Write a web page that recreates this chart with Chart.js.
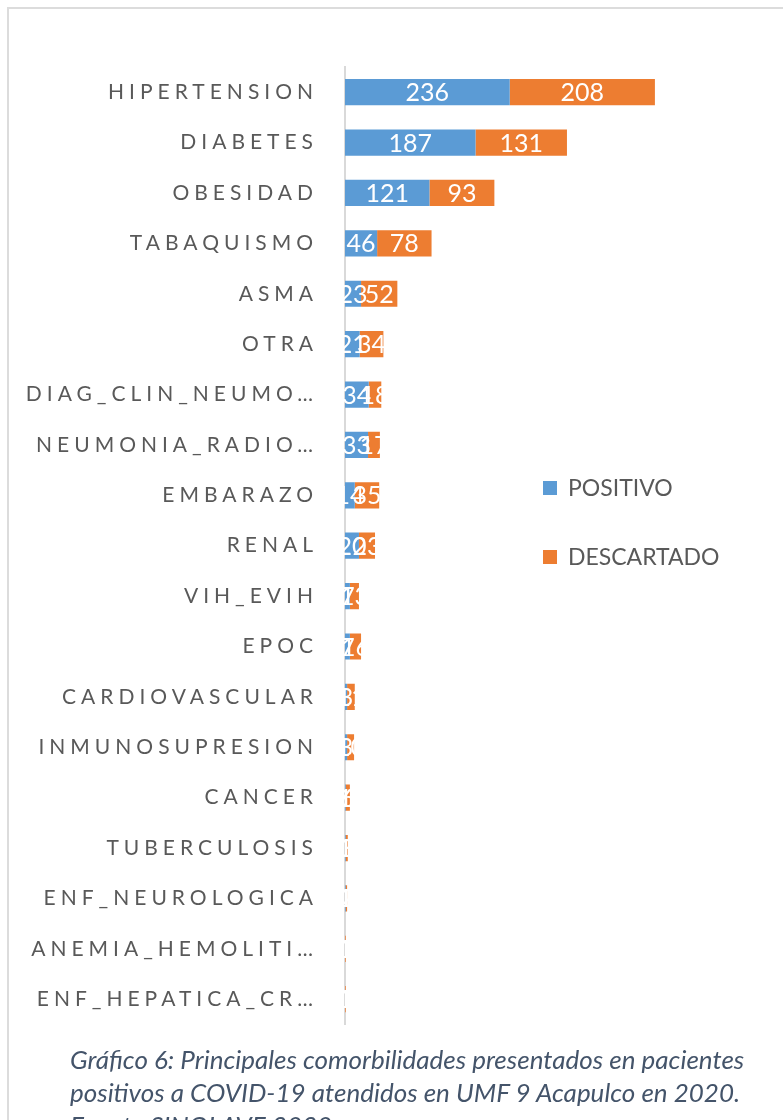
<!DOCTYPE html>
<html>
<head>
<meta charset="utf-8">
<script src="https://cdn.jsdelivr.net/npm/chart.js@4/dist/chart.umd.min.js"></script>
<style>
  html, body { margin: 0; padding: 0; background: #fff; overflow: hidden; }
  #page { position: relative; width: 783px; height: 1120px; }
  #frame { position: absolute; left: 7px; top: 7px; width: 900px; height: 1300px;
           border-left: 2px solid #dcdcdc; border-top: 2px solid #dcdcdc; }
  #chart { position: absolute; left: 0; top: 0; }
  #legend { position: absolute; left: 543px; top: 474px; font-family: Lato, sans-serif;
            font-size: 23px; color: #595959; }
  #legend div { height: 69px; line-height: 26px; white-space: nowrap; }
  #legend span.box { display: inline-block; width: 14px; height: 14px; margin-right: 11px;
                     vertical-align: 1px; }
  #caption { position: absolute; left: 70px; top: 1043px; font-family: Lato, sans-serif;
             font-style: italic; font-size: 26px; line-height: 33px; color: #44546a;
             white-space: nowrap; }
</style>
</head>
<body>
<div id="page">
  <div id="frame"></div>
  <canvas id="chart" width="783" height="1064"></canvas>
  <div id="legend"></div>
  <div id="caption">Gráfico 6: Principales comorbilidades presentados en pacientes<br>positivos a COVID-19 atendidos en UMF 9 Acapulco en 2020.<br>Fuente SINOLAVE 2020.</div>
</div>
<script>
// categories (top to bottom) and counts
const categories = [
  'HIPERTENSION', 'DIABETES', 'OBESIDAD', 'TABAQUISMO', 'ASMA', 'OTRA',
  'DIAG_CLIN_NEUMO…', 'NEUMONIA_RADIO…', 'EMBARAZO', 'RENAL', 'VIH_EVIH', 'EPOC',
  'CARDIOVASCULAR', 'INMUNOSUPRESION', 'CANCER', 'TUBERCULOSIS', 'ENF_NEUROLOGICA',
  'ANEMIA_HEMOLITI…', 'ENF_HEPATICA_CR…'
];
const positivo   = [236, 187, 121, 46, 23, 21, 34, 33, 14, 20, 7, 7, 3, 3, 1, 1, 1, 0, 0];
const descartado = [208, 131, 93, 78, 52, 34, 18, 17, 35, 23, 13, 16, 11, 10, 6, 3, 2, 1, 1];
const seriesNames  = ['POSITIVO', 'DESCARTADO'];
const seriesColors = ['#5b9bd5', '#ed7d31'];

// legend as html
const legendDiv = document.getElementById('legend');
seriesNames.forEach((name, i) => {
  const row = document.createElement('div');
  row.innerHTML = `<span class="box" style="background:${seriesColors[i]}"></span>${name}`;
  legendDiv.appendChild(row);
});

// spaced category labels: set letterSpacing while the scales draw
const spacingPlugin = {
  id: 'spacing',
  beforeDraw: chart => { chart.ctx.letterSpacing = '5px'; },
  beforeDatasetsDraw: chart => { chart.ctx.letterSpacing = '0px'; }
};

// white value labels centred in each segment
const valueLabels = {
  id: 'valueLabels',
  afterDatasetsDraw: chart => {
    const ctx = chart.ctx;
    ctx.save();
    ctx.font = '25px Lato, sans-serif';
    ctx.fillStyle = '#ffffff';
    ctx.textAlign = 'center';
    ctx.textBaseline = 'middle';
    chart.data.datasets.forEach((ds, di) => {
      chart.getDatasetMeta(di).data.forEach((el, i) => {
        const { x, y, base } = el.getProps(['x', 'y', 'base'], true);
        ctx.fillText(String(ds.data[i]), (x + base) / 2, y + 1);
      });
    });
    ctx.restore();
  }
};

new Chart(document.getElementById('chart'), {
  type: 'bar',
  data: {
    labels: categories,
    datasets: [
      { label: seriesNames[0], data: positivo, backgroundColor: seriesColors[0] },
      { label: seriesNames[1], data: descartado, backgroundColor: seriesColors[1] }
    ]
  },
  plugins: [spacingPlugin, valueLabels],
  options: {
    indexAxis: 'y',
    responsive: false,
    animation: false,
    layout: { padding: { left: 0, right: 89, top: 67, bottom: 15 } },
    datasets: { bar: { categoryPercentage: 1, barPercentage: 0.52, borderWidth: 0 } },
    plugins: { legend: { display: false }, tooltip: { enabled: false } },
    scales: {
      x: { stacked: true, min: 0, max: 500, display: false },
      y: {
        stacked: true,
        grid: { display: false, drawTicks: false },
        border: { display: true, color: '#d9d9d9', width: 2 },
        ticks: {
          color: '#595959',
          padding: 27,
          font: { family: 'Lato, sans-serif', size: 21 }
        },
        afterFit: s => { s.width = 345; }
      }
    }
  }
});
</script>
</body>
</html>
